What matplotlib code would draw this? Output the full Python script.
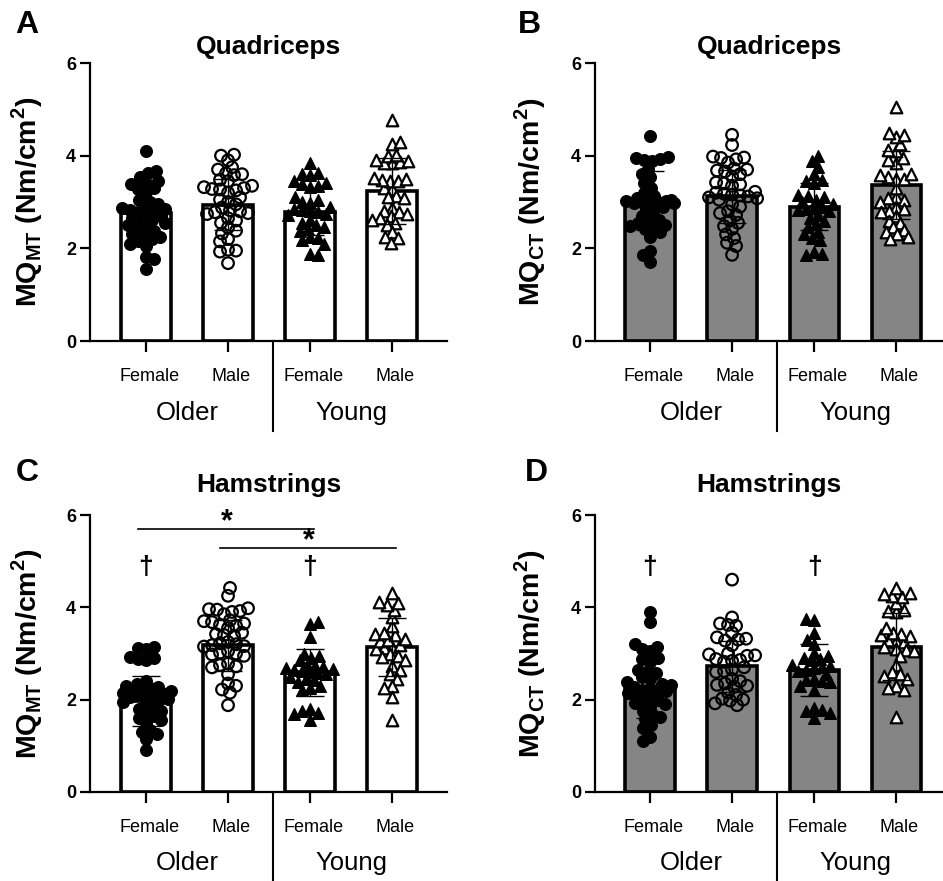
import matplotlib
matplotlib.use('Agg')
import matplotlib.pyplot as plt
import numpy as np

plt.rcParams['font.family'] = ['Liberation Sans', 'DejaVu Sans']
plt.rcParams['mathtext.fontset'] = 'custom'
plt.rcParams['mathtext.rm'] = 'Liberation Sans'
plt.rcParams['mathtext.bf'] = 'Liberation Sans:bold'

# ---------------- data ----------------
sex_labels = ['Female', 'Male', 'Female', 'Male']
age_labels = ['Older', 'Young']

# A: quadriceps MQ_MT
qmt_of = [4.09, 3.66, 3.62, 3.55, 3.45, 3.42, 3.38, 3.30, 3.28, 3.22, 3.05, 3.0, 2.95, 2.9, 2.88,
          2.85, 2.82, 2.8, 2.78, 2.75, 2.7, 2.65, 2.62, 2.6, 2.55, 2.5, 2.45, 2.42, 2.38, 2.3,
          2.28, 2.25, 2.2, 2.15, 2.1, 2.05, 1.82, 1.78, 1.55]
qmt_om = [4.02, 4.0, 3.9, 3.75, 3.7, 3.62, 3.6, 3.58, 3.48, 3.45, 3.35, 3.32, 3.3, 3.28, 3.27,
          3.25, 3.2, 3.1, 3.05, 3.0, 2.95, 2.88, 2.82, 2.8, 2.78, 2.76, 2.74, 2.65, 2.6, 2.55,
          2.45, 2.38, 2.32, 2.2, 2.15, 1.97, 1.95, 1.93, 1.68]
qmt_yf = [3.85, 3.62, 3.6, 3.58, 3.45, 3.42, 3.38, 3.35, 3.32, 3.1, 3.05, 3.0, 2.98, 2.9, 2.85,
          2.82, 2.8, 2.78, 2.75, 2.72, 2.62, 2.55, 2.5, 2.45, 2.42, 2.38, 2.25, 2.22, 2.18, 2.1,
          1.88, 1.85]
qmt_ym = [4.78, 4.3, 4.25, 4.02, 4.0, 3.9, 3.88, 3.86, 3.85, 3.84, 3.52, 3.5, 3.48, 3.46, 3.45,
          3.3, 3.28, 3.12, 3.1, 3.08, 2.88, 2.8, 2.78, 2.75, 2.7, 2.65, 2.62, 2.55, 2.5, 2.35,
          2.25, 2.22, 2.12]
qmt_mean = [2.76, 2.94, 2.79, 3.24]
qmt_sd = [0.50, 0.55, 0.50, 0.71]

# B: quadriceps MQ_CT
qct_of = [4.42, 3.98, 3.95, 3.93, 3.9, 3.88, 3.72, 3.6, 3.55, 3.4, 3.3, 3.2, 3.12, 3.08, 3.05,
          3.03, 3.02, 3.02, 3.0, 3.0, 2.99, 2.98, 2.97, 2.95, 2.9, 2.85, 2.75, 2.7, 2.62, 2.6,
          2.55, 2.5, 2.48, 2.45, 2.42, 2.35, 2.25, 1.95, 1.85, 1.7]
qct_om = [4.45, 4.23, 3.98, 3.96, 3.95, 3.92, 3.85, 3.72, 3.7, 3.68, 3.66, 3.6, 3.55, 3.42, 3.4,
          3.38, 3.35, 3.22, 3.2, 3.18, 3.16, 3.14, 3.12, 3.1, 3.08, 3.05, 2.95, 2.9, 2.8, 2.76,
          2.72, 2.6, 2.55, 2.48, 2.42, 2.3, 2.22, 2.12, 2.05, 1.86]
qct_yf = [4.0, 3.88, 3.75, 3.6, 3.48, 3.45, 3.42, 3.15, 3.12, 3.1, 3.05, 3.0, 2.95, 2.9, 2.88,
          2.85, 2.82, 2.8, 2.72, 2.65, 2.6, 2.52, 2.45, 2.35, 2.3, 2.22, 2.18, 1.92, 1.88, 1.86]
qct_ym = [5.05, 4.5, 4.45, 4.4, 4.25, 4.12, 4.1, 3.95, 3.9, 3.85, 3.6, 3.58, 3.55, 3.5, 3.5,
          3.3, 3.1, 3.08, 3.05, 3.0, 2.9, 2.85, 2.8, 2.78, 2.7, 2.6, 2.55, 2.45, 2.4, 2.35,
          2.3, 2.25, 2.2]
qct_mean = [3.03, 3.12, 2.90, 3.36]
qct_sd = [0.63, 0.58, 0.51, 0.73]

# C: hamstrings MQ_MT
hmt_of = [3.15, 3.12, 3.1, 2.92, 2.9, 2.88, 2.85, 2.4, 2.35, 2.3, 2.28, 2.25, 2.22, 2.2, 2.18,
          2.15, 2.15, 2.12, 2.1, 2.08, 2.05, 2.02, 2.0, 1.95, 1.9, 1.85, 1.8, 1.75, 1.7, 1.65,
          1.6, 1.55, 1.5, 1.35, 1.3, 1.25, 1.15, 0.92]
hmt_om = [4.42, 4.25, 3.98, 3.96, 3.95, 3.92, 3.9, 3.85, 3.72, 3.7, 3.68, 3.65, 3.62, 3.6, 3.55,
          3.45, 3.42, 3.4, 3.38, 3.25, 3.22, 3.2, 3.18, 3.16, 3.15, 3.05, 3.02, 3.0, 2.98, 2.95,
          2.78, 2.75, 2.72, 2.7, 2.55, 2.35, 2.3, 2.22, 2.15, 1.88]
hmt_yf = [3.68, 3.64, 3.35, 3.0, 2.95, 2.9, 2.85, 2.75, 2.72, 2.7, 2.68, 2.66, 2.65, 2.62, 2.6,
          2.58, 2.55, 2.5, 2.45, 2.42, 2.38, 2.3, 2.25, 2.2, 1.8, 1.75, 1.72, 1.7, 1.55]
hmt_ym = [4.3, 4.12, 4.1, 4.05, 3.95, 3.78, 3.6, 3.45, 3.42, 3.4, 3.32, 3.3, 3.28, 3.18, 3.15,
          3.12, 3.1, 2.98, 2.95, 2.92, 2.85, 2.72, 2.65, 2.55, 2.45, 2.3, 2.25, 2.05, 1.55]
hmt_mean = [1.97, 3.18, 2.59, 3.14]
hmt_sd = [0.55, 0.55, 0.50, 0.62]

# D: hamstrings MQ_CT
hct_of = [3.9, 3.68, 3.2, 3.15, 3.1, 3.05, 2.9, 2.88, 2.82, 2.65, 2.62, 2.58, 2.5, 2.45, 2.38,
          2.35, 2.32, 2.28, 2.25, 2.22, 2.2, 2.18, 2.15, 2.1, 2.05, 2.0, 1.95, 1.92, 1.9, 1.85,
          1.75, 1.68, 1.62, 1.58, 1.45, 1.38, 1.2, 1.1]
hct_om = [4.6, 3.78, 3.65, 3.62, 3.6, 3.45, 3.35, 3.32, 3.3, 3.28, 3.18, 3.0, 2.98, 2.96, 2.95,
          2.88, 2.86, 2.84, 2.82, 2.7, 2.65, 2.62, 2.6, 2.45, 2.4, 2.35, 2.32, 2.3, 2.28, 2.15,
          2.1, 2.02, 2.0, 1.98, 1.92, 1.88]
hct_yf = [3.75, 3.72, 3.45, 3.3, 3.2, 3.02, 2.95, 2.9, 2.88, 2.85, 2.75, 2.72, 2.7, 2.68, 2.65,
          2.62, 2.55, 2.45, 2.42, 2.4, 2.38, 2.3, 2.2, 1.82, 1.78, 1.75, 1.72, 1.6]
hct_ym = [4.42, 4.3, 4.28, 4.25, 4.22, 4.1, 3.95, 3.92, 3.9, 3.55, 3.45, 3.42, 3.4, 3.38, 3.3,
          3.28, 3.25, 3.15, 3.1, 3.08, 3.05, 2.95, 2.75, 2.6, 2.55, 2.52, 2.45, 2.3, 2.25, 2.22,
          1.62]
hct_mean = [2.25, 2.72, 2.64, 3.15]
hct_sd = [0.65, 0.55, 0.56, 0.72]

# significance marks (panel C: * brackets, panels C/D: daggers)
star_pairs = [(0, 2), (1, 3)]
star_heights = [5.69, 5.28]
dagger_groups = [0, 2]
dagger_height = 4.88

# ---------------- helpers ----------------
PX_X = 82.0    # pixels per category unit
PX_Y = 46.3    # pixels per y unit
D_PX = 8.0     # collision distance of swarm points (px)
MAX_PX = 25.0  # half width available for the swarm (px)


def swarm(vals):
    placed = []
    xs = []
    grid = np.arange(-MAX_PX, MAX_PX + 0.5, 1.0)
    for i, v in enumerate(vals):
        y = v * PX_Y
        if placed:
            pts = np.array(placed)
            dist = np.sqrt((grid[:, None] - pts[None, :, 0]) ** 2 + (y - pts[None, :, 1]) ** 2)
            mind = dist.min(axis=1)
        else:
            mind = np.full(grid.shape, np.inf)
        ok = mind >= D_PX
        tie = 0.01 * grid * (1 if i % 2 else -1)
        if ok.any():
            score = np.where(ok, np.abs(grid) + tie, np.inf)
        else:
            score = -mind + 0.001 * np.abs(grid)
        pick = grid[np.argmin(score)]
        placed.append((pick, y))
        xs.append(pick / PX_X)
    return np.array(xs)


markers = [dict(marker='o', facecolors='black', edgecolors='black', linewidths=1.0),
           dict(marker='o', facecolors='none', edgecolors='black', linewidths=1.6),
           dict(marker='^', facecolors='black', edgecolors='black', linewidths=1.0),
           dict(marker='^', facecolors='white', edgecolors='black', linewidths=1.6)]


def draw_panel(ax, groups, means, sds, bar_color, ylabel, title, title_y, xlim, lab_x):
    xpos = np.arange(4)
    ax.bar(xpos, means, width=0.6, color=bar_color, edgecolor='black', linewidth=2.6, zorder=1)
    for i, vals in enumerate(groups):
        vals = sorted(vals, key=lambda v: abs(v - np.median(vals)))
        xs = swarm(vals)
        ax.scatter(xpos[i] + xs, vals, s=70, zorder=2, clip_on=False, **markers[i])
    ax.errorbar(xpos, means, yerr=sds, fmt='none', ecolor='black', elinewidth=1.0,
                capsize=10, capthick=1.0, zorder=3)

    ax.set_xlim(*xlim)
    ax.set_ylim(0, 6)
    ax.set_yticks([0, 2, 4, 6])
    ax.set_yticklabels(['0', '2', '4', '6'], fontsize=13, fontweight='bold')
    ax.set_xticks(xpos)
    ax.set_xticklabels([])
    ax.tick_params(axis='y', length=7, width=1.6, pad=3)
    ax.tick_params(axis='x', length=8, width=1.6)
    for s in ['top', 'right']:
        ax.spines[s].set_visible(False)
    for s in ['left', 'bottom']:
        ax.spines[s].set_linewidth(1.6)

    trans = ax.get_xaxis_transform()
    for i, lab in enumerate(sex_labels):
        ax.text(xpos[i] + 0.04, -0.128, lab, transform=trans, ha='center', va='center', fontsize=13)
    ax.text(0.5, -0.258, age_labels[0], transform=trans, ha='center', va='center', fontsize=18.5)
    ax.text(2.5, -0.258, age_labels[1], transform=trans, ha='center', va='center', fontsize=18.5)
    ax.plot([1.55, 1.55], [0, -0.325], transform=trans, color='black', lw=1.5, clip_on=False)

    ax.set_ylabel(ylabel, fontsize=20.5, fontweight='bold')
    ax.yaxis.set_label_coords(lab_x, 0.5)
    ax.text(0.5, title_y, title, transform=ax.transAxes, ha='center', va='center',
            fontsize=19, fontweight='bold')


fig = plt.figure(figsize=(9.43, 8.81), dpi=100)

W, H = 943.0, 881.0
boxes = {
    'A': (90, 63, 447, 341),
    'B': (595, 63, 943, 341),
    'C': (90, 515, 447, 792),
    'D': (595, 515, 943, 792),
}
axes = {}
for k, (x0, y0, x1, y1) in boxes.items():
    axes[k] = fig.add_axes([x0 / W, 1 - y1 / H, (x1 - x0) / W, (y1 - y0) / H])

lab_mt = r'MQ$_{\mathbf{MT}}$ (Nm/cm$^{\mathbf{2}}$)'
lab_ct = r'MQ$_{\mathbf{CT}}$ (Nm/cm$^{\mathbf{2}}$)'
gray = '#858585'

draw_panel(axes['A'], [qmt_of, qmt_om, qmt_yf, qmt_ym], qmt_mean, qmt_sd, 'white',
           lab_mt, 'Quadriceps', 1.058, (-0.683, 3.67), -0.126)
draw_panel(axes['B'], [qct_of, qct_om, qct_yf, qct_ym], qct_mean, qct_sd, gray,
           lab_ct, 'Quadriceps', 1.058, (-0.67, 3.57), -0.135)
draw_panel(axes['C'], [hmt_of, hmt_om, hmt_yf, hmt_ym], hmt_mean, hmt_sd, 'white',
           lab_mt, 'Hamstrings', 1.108, (-0.683, 3.67), -0.126)
draw_panel(axes['D'], [hct_of, hct_om, hct_yf, hct_ym], hct_mean, hct_sd, gray,
           lab_ct, 'Hamstrings', 1.108, (-0.67, 3.57), -0.135)

# significance brackets in C
axC = axes['C']
for (a, b), h in zip(star_pairs, star_heights):
    axC.plot([a - 0.1, b + 0.05], [h, h], color='black', lw=1.2, clip_on=False, zorder=4)
    axC.text((a + b) / 2 - 0.01, h + 0.16, '*', ha='center', va='center', fontsize=22,
             fontweight='bold', zorder=4)
for ax in (axes['C'], axes['D']):
    for g in dagger_groups:
        ax.text(g, dagger_height, '\u2020', ha='center', va='center', fontsize=19,
                fontweight='bold', family=['Liberation Sans', 'DejaVu Sans'])

# panel letters
for k, (x, y) in {'A': (15, 25), 'B': (518, 25), 'C': (16, 473), 'D': (525, 473)}.items():
    fig.text(x / W, 1 - y / H, k, ha='left', va='center', fontsize=23, fontweight='bold')

fig.savefig('out.png', dpi=100)
